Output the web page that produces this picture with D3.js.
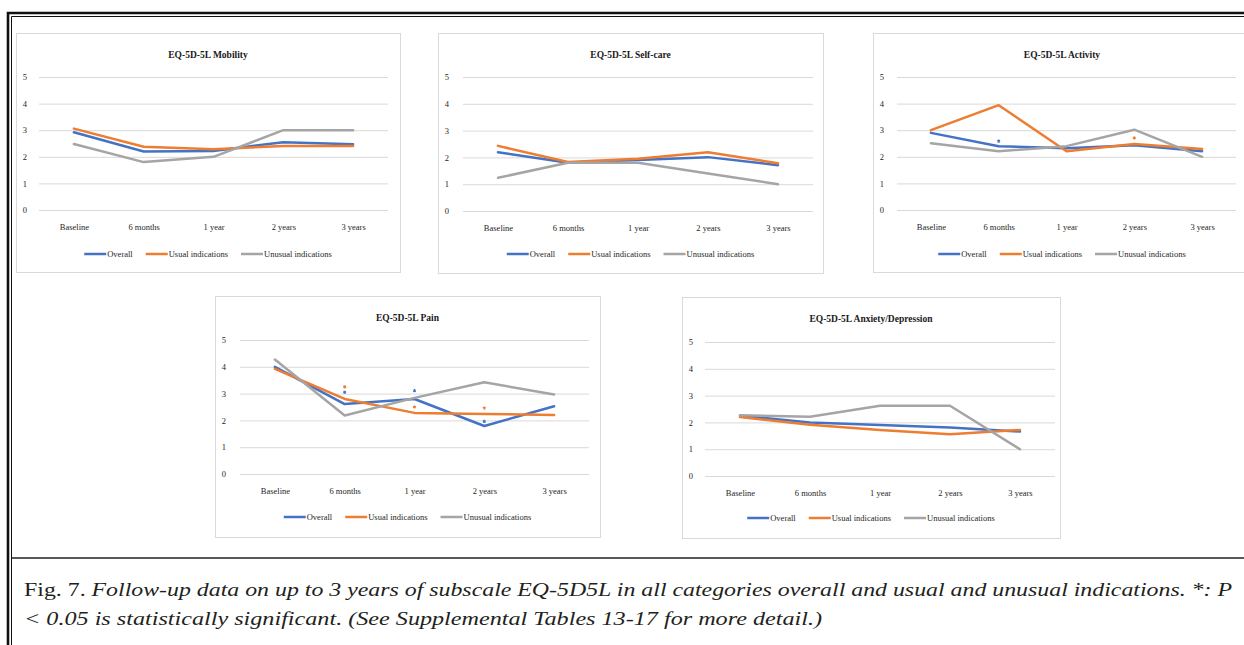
<!DOCTYPE html>
<html>
<head>
<meta charset="utf-8">
<script src="https://cdn.jsdelivr.net/npm/d3@7"></script>
<style>
  body { margin: 0; background: #fff; }
  svg { display: block; }
  .tick text { font-family: "Liberation Serif", "Times New Roman", serif; font-size: 8.5px; fill: #262626; }
</style>
</head>
<body>
<div id="chart"></div>
<script>
// ---- data ----
const categories = ["Baseline", "6 months", "1 year", "2 years", "3 years"];
const seriesNames = ["Overall", "Usual indications", "Unusual indications"];
const yTicks = [0, 1, 2, 3, 4, 5];
const panelTitles = ["EQ-5D-5L Mobility", "EQ-5D-5L Self-care", "EQ-5D-5L Activity", "EQ-5D-5L Pain", "EQ-5D-5L Anxiety/Depression"];

const mobilityOverall = [2.92, 2.2, 2.22, 2.55, 2.47];
const mobilityUsual   = [3.06, 2.38, 2.28, 2.41, 2.41];
const mobilityUnusual = [2.48, 1.8, 2.0, 3.0, 3.0];

const selfcareOverall = [2.19, 1.8, 1.9, 2.01, 1.71];
const selfcareUsual   = [2.43, 1.83, 1.95, 2.19, 1.78];
const selfcareUnusual = [1.24, 1.8, 1.8, 1.4, 1.0];

const activityOverall = [2.9, 2.4, 2.32, 2.43, 2.21];
const activityUsual   = [3.0, 3.94, 2.21, 2.48, 2.29];
const activityUnusual = [2.51, 2.21, 2.4, 3.02, 2.0];

const painOverall = [4.0, 2.61, 2.8, 1.79, 2.53];
const painUsual   = [3.92, 2.8, 2.28, 2.24, 2.2];
const painUnusual = [4.27, 2.18, 2.84, 3.42, 2.97];

const anxietyOverall = [2.25, 2.0, 1.9, 1.81, 1.66];
const anxietyUsual   = [2.2, 1.91, 1.72, 1.56, 1.72];
const anxietyUnusual = [2.27, 2.21, 2.62, 2.62, 1.0];

// significance asterisks: series index, category, height on the y scale
const activityStars = [[0, "6 months", 2.59], [1, "2 years", 2.71]];
const painStars = [[1, "6 months", 3.25], [0, "6 months", 3.05], [0, "1 year", 3.11], [1, "1 year", 2.5], [1, "2 years", 2.46], [0, "2 years", 1.96]];

const captionLead = "Fig. 7. ";
const captionLine1 = "Follow-up data on up to 3 years of  subscale EQ-5D5L in all categories overall and usual and unusual indications. *: P";
const captionLine2 = "< 0.05 is statistically significant. (See Supplemental Tables 13-17 for more detail.)";

const colors = ["#4472C4", "#ED7D31", "#A5A5A5"];

const panelData = [
  [mobilityOverall, mobilityUsual, mobilityUnusual],
  [selfcareOverall, selfcareUsual, selfcareUnusual],
  [activityOverall, activityUsual, activityUnusual],
  [painOverall, painUsual, painUnusual],
  [anxietyOverall, anxietyUsual, anxietyUnusual]
];
const panelStars = [[], [], activityStars, painStars, []];

// ---- layout ----
const width = 1244, height = 645;
const boxes = [
  {x: 16,  y: 33,  w: 384, h: 239, plotL: 39,  plotR: 388,  y5: 77,  y0: 210},
  {x: 438, y: 33,  w: 385, h: 240, plotL: 463, plotR: 813,  y5: 77,  y0: 211},
  {x: 873, y: 33,  w: 378, h: 239, plotL: 897, plotR: 1236, y5: 77,  y0: 210},
  {x: 215, y: 296, w: 385, h: 241, plotL: 240, plotR: 589,  y5: 340, y0: 474},
  {x: 682, y: 297, w: 378, h: 241, plotL: 705, plotR: 1055, y5: 342, y0: 476}
];

const svg = d3.select("#chart").append("svg")
  .attr("width", width).attr("height", height);

svg.append("rect").attr("width", width).attr("height", height).attr("fill", "#fff");

// outer frame (double line) and caption separator
svg.append("path").attr("d", "M8,645V13H1244").attr("fill", "none").attr("stroke", "#111").attr("stroke-width", 2.6);
svg.append("path").attr("d", "M11.5,645V16.5H1244").attr("fill", "none").attr("stroke", "#111").attr("stroke-width", 1);
svg.append("line").attr("x1", 11.5).attr("x2", width).attr("y1", 558).attr("y2", 558)
  .attr("stroke", "#222").attr("stroke-width", 1.3);

const serif = '"Liberation Serif", "Times New Roman", serif';
const star = d3.symbol().type(d3.symbolAsterisk).size(7);

boxes.forEach((b, p) => {
  const g = svg.append("g");

  g.append("rect")
    .attr("x", b.x + 0.5).attr("y", b.y + 0.5)
    .attr("width", b.w).attr("height", b.h)
    .attr("fill", "#fff").attr("stroke", "#d9d9d9").attr("stroke-width", 1);

  g.append("text")
    .attr("x", b.x + b.w / 2).attr("y", b.y + 25)
    .attr("text-anchor", "middle")
    .style("font-family", serif).style("font-size", "9.5px").style("font-weight", "bold")
    .attr("fill", "#1a1a1a")
    .text(panelTitles[p]);

  const x = d3.scalePoint().domain(categories).range([b.plotL, b.plotR]).padding(0.5);
  const y = d3.scaleLinear().domain([0, 5]).range([b.y0, b.y5]);

  // gridlines + y labels
  const yAxis = g.append("g")
    .attr("transform", `translate(${b.plotL},0)`)
    .call(d3.axisLeft(y).tickValues(yTicks).tickFormat(d3.format("d"))
      .tickSize(-(b.plotR - b.plotL)).tickPadding(b.plotL - b.x - 11));
  yAxis.select(".domain").remove();
  yAxis.selectAll(".tick line").attr("stroke", "#d9d9d9").attr("stroke-width", 1);

  // category labels
  const xAxis = g.append("g")
    .attr("transform", `translate(0,${b.y0})`)
    .call(d3.axisBottom(x).tickSize(0).tickPadding(14));
  xAxis.select(".domain").remove();

  const line = d3.line()
    .x((d, i) => x(categories[i]))
    .y(d => y(d));

  panelData[p].forEach((vals, s) => {
    g.append("path")
      .datum(vals)
      .attr("d", line)
      .attr("fill", "none")
      .attr("stroke", colors[s])
      .attr("stroke-width", 2.5)
      .attr("stroke-linejoin", "round")
      .attr("stroke-linecap", "round");
  });

  // "*" significance marks
  g.selectAll(".star")
    .data(panelStars[p])
    .enter().append("path")
    .attr("class", "star")
    .attr("transform", d => `translate(${x(d[1])},${y(d[2])})`)
    .attr("d", star)
    .attr("fill", "none")
    .attr("stroke", d => colors[d[0]])
    .attr("stroke-width", 1.1);

  // legend, centred under the panel
  const leg = g.append("g");
  const items = leg.selectAll("g").data(seriesNames).enter().append("g");
  items.append("line")
    .attr("x1", 0).attr("x2", 22).attr("y1", 0).attr("y2", 0)
    .attr("stroke", (d, i) => colors[i]).attr("stroke-width", 2.5);
  items.append("text")
    .attr("x", 23).attr("dy", "0.33em")
    .style("font-family", serif).style("font-size", "8.5px")
    .attr("fill", "#262626")
    .text(d => d);
  let off = 0;
  items.each(function() {
    const tw = d3.select(this).select("text").node().getComputedTextLength();
    d3.select(this).attr("transform", `translate(${off},0)`);
    off += 23 + tw + 13;
  });
  off -= 13;
  leg.attr("transform", `translate(${b.x + b.w / 2 - off / 2},${b.y + 221})`);
});

// caption
const cap = svg.append("g")
  .style("font-family", serif)
  .style("font-size", "19px")
  .attr("fill", "#231f20");
const t1 = cap.append("text").attr("x", 24).attr("y", 596);
t1.append("tspan").text(captionLead);
t1.append("tspan").style("font-style", "italic").text(captionLine1);
const t2 = cap.append("text").attr("x", 24).attr("y", 625)
  .style("font-style", "italic").text(captionLine2);

t1.attr("textLength", 1208).attr("lengthAdjust", "spacingAndGlyphs");
t2.attr("textLength", 798).attr("lengthAdjust", "spacingAndGlyphs");
</script>
</body>
</html>
